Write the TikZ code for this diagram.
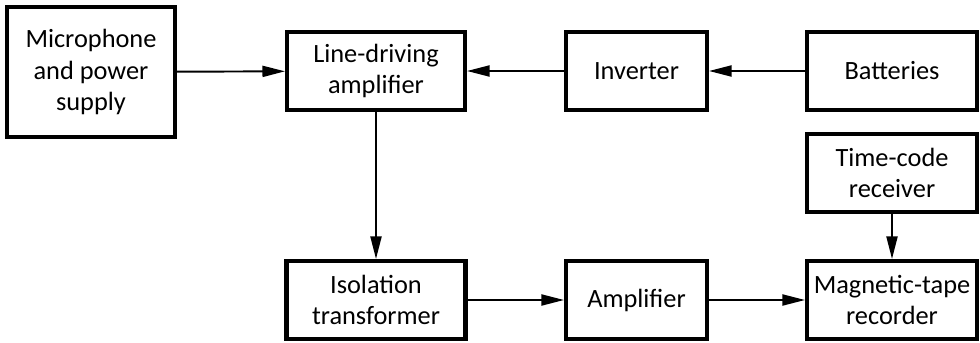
\documentclass[tikz,border=0pt]{standalone}
\usepackage{fontspec}
\setmainfont{Carlito}
\usetikzlibrary{arrows.meta, positioning}

\begin{document}
\begin{tikzpicture}[
  block/.style={rectangle, draw=black, line width=2.3pt, inner sep=0pt, minimum width=3.4cm, minimum height=1.56cm, font=\fontsize{15}{18}\selectfont, align=center},
  arr/.style={-{Triangle[length=4.5mm, width=2.2mm]}, draw=black, line width=1.1pt},
]
\useasboundingbox (0,0) rectangle (19.6,-6.84);

%% Top row
\node[block, minimum width=3.36cm, minimum height=2.6cm] (mic) at (1.82,-1.44) {Microphone\\and power\\supply};
\node[block, minimum width=3.56cm] (lda) at (7.52,-1.42) {Line-driving\\amplifier};
\node[block, minimum width=2.82cm] (inv) at (12.73,-1.42) {Inverter};
\node[block] (bat) at (17.84,-1.42) {Batteries};

%% Right column
\node[block] (tcr) at (17.84,-3.46) {Time-code\\receiver};

%% Bottom row
\node[block, minimum width=3.58cm] (iso) at (7.52,-6.0) {Isolation\\transformer};
\node[block, minimum width=2.82cm] (amp) at (12.73,-6.0) {Amplifier};
\node[block] (mtr) at (17.84,-6.0) {Magnetic-tape\\recorder};

%% Connections
\draw[arr] (mic) -- (lda);
\draw[arr] (inv) -- (lda);
\draw[arr] (bat) -- (inv);
\draw[arr] (lda) -- (iso);
\draw[arr] (iso) -- (amp);
\draw[arr] (amp) -- (mtr);
\draw[arr] (tcr) -- (mtr);
\end{tikzpicture}
\end{document}
